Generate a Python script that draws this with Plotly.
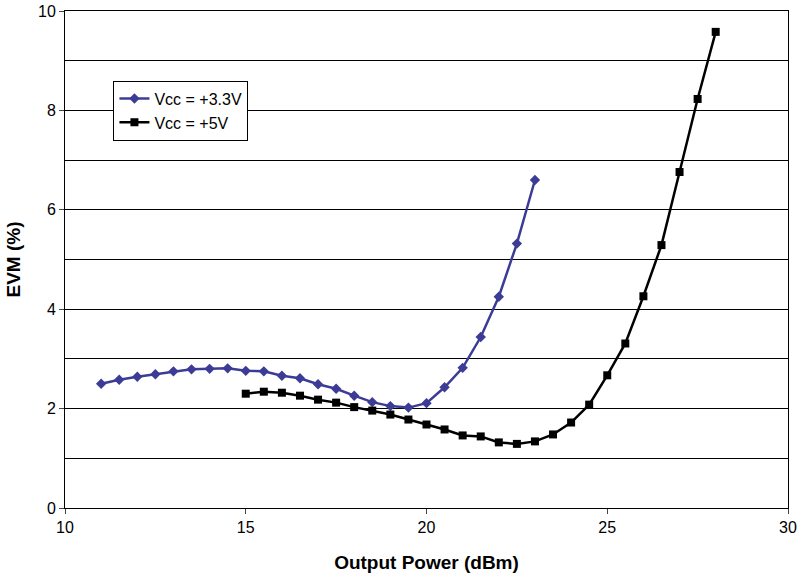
import plotly.graph_objects as go

x_33 = [11 + 0.5 * i for i in range(25)]
evm_33 = [2.5, 2.58, 2.64, 2.69, 2.75, 2.79, 2.8, 2.81, 2.76, 2.75, 2.66, 2.61, 2.49, 2.4, 2.26, 2.13, 2.05, 2.02, 2.11, 2.43, 2.82, 3.44, 4.25, 5.32, 6.6]
x_5 = [15 + 0.5 * i for i in range(27)]
evm_5 = [2.3, 2.34, 2.32, 2.26, 2.18, 2.12, 2.03, 1.96, 1.88, 1.78, 1.68, 1.58, 1.46, 1.44, 1.32, 1.29, 1.34, 1.48, 1.72, 2.08, 2.67, 3.31, 4.26, 5.29, 6.76, 8.23, 9.58]

fig = go.Figure()
fig.add_trace(go.Scatter(x=x_33, y=evm_33, name="Vcc = +3.3V", mode="lines+markers",
                         line=dict(color="#3c3c96", width=2.5),
                         marker=dict(symbol="diamond", size=8, color="#3c3c96")))
fig.add_trace(go.Scatter(x=x_5, y=evm_5, name="Vcc = +5V", mode="lines+markers",
                         line=dict(color="black", width=2.5),
                         marker=dict(symbol="square", size=8, color="black")))
fig.update_layout(
    width=803, height=585, paper_bgcolor="white", plot_bgcolor="white",
    margin=dict(l=65, r=15, t=11, b=77),
    font=dict(family="Liberation Sans, Arial", size=16, color="black"),
    legend=dict(x=0.067, y=0.86, xanchor="left", yanchor="top", bordercolor="black",
                borderwidth=1, bgcolor="white", font=dict(size=16)),
    xaxis=dict(range=[10, 30], dtick=5, showgrid=False, ticks="outside", ticklen=5,
               showline=True, linecolor="black", mirror=True, automargin=False,
               title=dict(text="<b>Output Power (dBm)</b>", font=dict(size=19), standoff=20)),
    yaxis=dict(range=[0, 10], dtick=2, showgrid=True, gridcolor="black", gridwidth=1,
               minor=dict(dtick=1, showgrid=True, gridcolor="black"),
               ticks="outside", ticklen=5, showline=True, linecolor="black", mirror=True,
               automargin=False,
               title=dict(text="<b>EVM (%)</b>", font=dict(size=19), standoff=12)),
)
fig.write_html("out.html", config={"displayModeBar": False},
               post_script="document.body.style.margin='0';")
